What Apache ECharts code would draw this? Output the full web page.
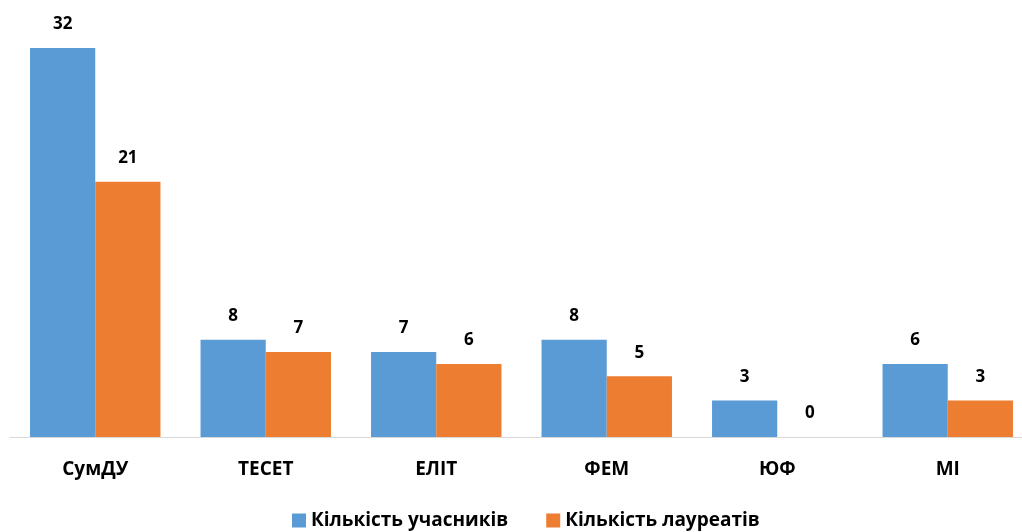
<!DOCTYPE html>
<html><head><meta charset="utf-8">
<script src="https://cdn.jsdelivr.net/npm/echarts@6/dist/echarts.min.js"></script>
<style>html,body{margin:0;padding:0;background:#fff;overflow:hidden;width:1022px;height:532px}#c{width:1033px;height:532px}</style>
</head><body><div id="c"></div>
<script>
const categories = ['СумДУ','ТЕСЕТ','ЕЛІТ','ФЕМ','ЮФ','МІ'];
const participants = [32, 8, 7, 8, 3, 6];
const laureates = [21, 7, 6, 5, 0, 3];
const seriesNames = ['Кількість учасників','Кількість лауреатів'];
const FONT = '"Open Sans", "Noto Sans", sans-serif';
const chart = echarts.init(document.getElementById('c'));
const label = {show:true, position:'top', distance:15, fontFamily:FONT, fontWeight:'bold', fontSize:17, color:'#000'};
chart.setOption({
  animation:false,
  grid:{left:10, top:48, bottom:95, right:0, containLabel:false},
  legend:{bottom:-3, left:287, itemWidth:14, itemHeight:14, itemGap:38, icon:'rect',
    textStyle:{fontFamily:FONT, fontWeight:'bold', fontSize:19, color:'#000'}},
  xAxis:{type:'category', data:categories, axisTick:{show:false},
    axisLine:{lineStyle:{color:'#d9d9d9', width:1}},
    axisLabel:{margin:23, fontFamily:FONT, fontWeight:'bold', fontSize:19, color:'#000'}},
  yAxis:{type:'value', min:0, max:32, show:false, splitLine:{show:false}},
  series:[
    {name:seriesNames[0], type:'bar', data:participants, barGap:'0%', barCategoryGap:'23.5%', itemStyle:{color:'#5B9BD5'}, label:label},
    {name:seriesNames[1], type:'bar', data:laureates, itemStyle:{color:'#ED7D31'}, label:label}
  ]
});
</script></body></html>
